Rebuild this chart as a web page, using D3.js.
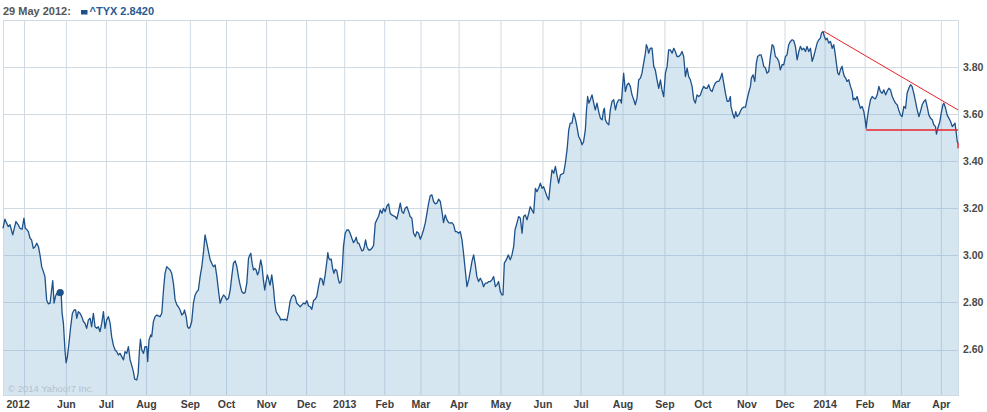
<!DOCTYPE html>
<html><head><meta charset="utf-8">
<script src="https://cdn.jsdelivr.net/npm/d3@7"></script>
<style>
body{margin:0;background:#fff;}
svg{display:block;font-family:"Liberation Sans",Arial,sans-serif;}
</style></head><body>
<svg id="c" width="987" height="412"></svg>
<script>
// x = trading session index (0 = 16 Apr 2012 ... 501 = 14 Apr 2014)
const session = [
0,1,1.9,2.8,3.7,5.1,5.9,6.8,8,8.9,
10,11,11.7,12.4,13.3,14.2,15,15.9,16.8,17.7,
18.6,19.4,20.3,21.2,22,22.9,23.8,24.7,25.5,26.1,
26.8,27.5,28.2,29,30,30.5,31,31.7,32.5,33.1,
33.8,34.6,35.5,36.4,37.3,38.1,38.7,39.5,40.4,41.3,
42.2,43,43.9,44.8,45.7,46.5,47.4,48.3,49.2,50,
50.9,51.8,52.7,53.5,54.4,55.3,56.2,57,57.9,58.8,
59.7,60.5,61.4,62.3,63.2,64,64.9,65.8,66.7,67.5,
68.4,69.1,70.2,70.9,71.6,72.1,72.8,73.7,74.5,75.4,
75.9,76.6,77.5,78,78.9,79.8,80.7,81.5,82.4,83.3,
84.2,85,85.9,86.8,87.7,88.5,89.4,90.3,91.2,92,
92.9,93.8,94.7,95.2,96.1,96.8,97.5,98.2,99,99.9,
100.8,101.7,102.5,103.4,104.3,105.2,106,106.9,107.8,108.7,
109.5,110.4,111.3,112.2,113,113.9,114.8,115.7,116.5,117.4,
118.3,119.2,120,120.9,121.8,122.7,123.5,124.4,125.3,126.2,
127,127.9,128.8,129.3,
130,130.7,131.4,132.1,132.8,133.5,134.2,135.2,135.9,136.6,
137.3,138,138.7,139.4,140.1,141,141.9,142.6,143.3,144.3,
145,145.7,146.4,147.1,148,148.9,149.8,150.6,151.5,152.4,
153.3,154.1,155,155.9,156.8,157.6,158.5,159.4,160.3,161.1,
162,162.9,163.8,164.6,165.5,166.4,167.3,168.1,169,169.9,
170.4,170.9,171.6,172.2,172.9,173.6,174.3,175.1,176,176.5,
177.4,178.1,178.6,179.5,180.4,181.3,182.1,183,183.9,184.8,
185.3,186,186.7,187.4,188.3,189.1,189.7,190.2,190.9,191.8,
192.6,193.5,194.4,195.3,196.1,197,197.9,198.8,199.6,200.5,
201.4,202.3,203.1,204,204.9,205.8,206.6,207.5,208.4,209.3,
210.1,211,211.9,212.8,213.6,214.5,215.4,216.3,217.1,218,
218.9,219.8,220.6,221.5,222.4,223.3,224.1,225,225.9,226.8,
227.6,228.5,229.4,230.3,231.1,232,232.9,233.8,234.6,235.5,
236.4,237.3,238.1,239,239.9,240.8,241.6,242.5,243.4,244.3,
245.1,246,246.9,247.8,248.6,249.5,250.4,251.3,252.1,253,
253.9,254.8,255.6,
256.5,257.4,258.3,259.1,260,260.9,261.8,262.3,263,264,
265.1,266.1,267,267.9,268.6,269.6,270.5,271.4,272.3,273.1,
274,274.9,275.8,276.6,277.5,278.4,279.3,280.1,281,281.9,
282.8,283.6,284.5,285.4,286.3,287.1,288,288.9,289.8,290.6,
291.5,292.4,293.3,294.1,295,295.9,296.8,297.6,298.5,299.4,
300.2,301.1,302,302.9,303.8,304.6,305.5,306,306.7,307.4,
308.1,309,309.9,310.7,311.6,312.5,313.4,314.3,315.1,315.5,
316,316.9,317.8,318.6,319.5,320.4,321.3,322.1,323,323.9,
324.4,324.9,325.6,326.5,327.4,328.2,329.1,330,330.9,331.7,
332.6,333.5,334.4,335.2,336.1,337,337.5,338.2,338.7,339.6,
340.5,341.4,342.2,343.1,344,344.9,345.7,346.6,347.5,348.4,
349.2,350.1,351,351.9,352.7,353.6,354.5,355.4,356.2,357.1,
358,358.9,359.7,360.6,361.5,362.4,363.2,364.1,365,365.9,
366.7,367.6,368.5,369.4,370.2,371.1,372,372.9,373.7,374.6,
375.5,376.4,377.2,378.1,379,379.9,380.7,381.6,
381.9,383,383.7,384.4,385.1,386,386.8,387.7,388.6,389.5,
390.3,391.2,392.1,392.6,393.5,394.4,395.2,395.9,397,397.7,
398.4,399.1,400,400.8,401.7,402.6,403.5,404.3,405.2,406.1,
407,407.8,408.7,409.6,410.5,411.3,412.2,413.1,414,414.8,
415.7,416.6,417.5,418.3,419.2,420.1,421,421.8,422.7,423.6,
424.5,425.3,426.2,427.1,428,428.8,429.4,430.2,430.9,431.6,
432.3,433.2,434.1,435,435.8,436.4,437.2,437.9,438.6,439.3,
440.2,440.7,441.4,442.1,442.8,443.7,444.6,445.5,446,446.7,
447.2,448.1,449,449.8,450.7,451.6,452.3,452.8,453.3,454.2,
455.1,456,456.8,457.7,458.6,459.5,460.3,461.2,462.1,463,
463.8,464.7,465.6,466.5,467.3,468.2,469.1,469.9,470.8,471.7,
472.6,473.5,474.3,475.2,476.1,476.9,477.8,478.7,479.6,480.5,
481.3,482.2,483.1,484,484.8,485.7,486.6,487.5,488.3,489.2,
489.7,490.4,491.5,492.2,493.1,493.6,494.5,495.3,496.2,497.1,
498,498.8,499.4,499.9,500.6,501
];
const tyx = [
3.115,3.154,3.137,3.122,3.130,3.087,3.115,3.144,3.130,3.115,
3.111,3.158,3.115,3.111,3.101,3.073,3.066,3.030,3.037,3.052,
3.037,3.002,2.952,2.931,2.910,2.811,2.794,2.797,2.853,2.893,
2.797,2.825,2.839,2.832,2.842,2.839,2.754,2.712,2.598,2.544,
2.570,2.627,2.697,2.754,2.768,2.768,2.733,2.761,2.754,2.740,
2.719,2.712,2.690,2.726,2.733,2.697,2.754,2.697,2.690,2.697,
2.676,2.712,2.761,2.690,2.726,2.740,2.712,2.655,2.619,2.598,
2.591,2.577,2.584,2.570,2.556,2.591,2.584,2.612,2.556,2.534,
2.506,2.474,2.471,2.499,2.598,2.644,2.598,2.584,2.612,2.612,
2.549,2.641,2.662,2.655,2.719,2.740,2.747,2.743,2.740,2.754,
2.853,2.924,2.952,2.945,2.938,2.924,2.882,2.811,2.790,2.782,
2.768,2.747,2.754,2.768,2.740,2.697,2.690,2.697,2.719,2.797,
2.832,2.846,2.853,2.910,2.952,3.016,3.087,3.052,3.016,2.981,
2.967,2.952,2.959,2.910,2.853,2.797,2.818,2.832,2.825,2.811,
2.818,2.853,2.910,2.967,2.977,2.952,2.910,2.874,2.846,2.839,
2.842,2.882,2.988,2.998,
3.009,2.967,2.938,2.945,2.938,2.917,2.931,2.981,2.952,2.896,
2.853,2.889,2.917,2.896,2.874,2.917,2.860,2.797,2.761,2.747,
2.740,2.726,2.729,2.726,2.729,2.723,2.761,2.804,2.825,2.832,
2.825,2.797,2.790,2.782,2.790,2.797,2.794,2.808,2.785,2.782,
2.771,2.808,2.814,2.825,2.867,2.903,2.899,2.874,2.917,2.974,
3.012,2.988,2.981,2.984,2.945,2.924,2.941,2.935,2.896,2.882,
2.889,2.959,3.037,3.094,3.108,3.108,3.094,3.073,3.054,3.066,
3.077,3.052,3.052,3.037,3.019,3.023,3.044,3.066,3.037,3.023,
3.023,3.030,3.042,3.137,3.151,3.165,3.193,3.179,3.200,3.186,
3.210,3.219,3.179,3.172,3.168,3.165,3.154,3.186,3.222,3.186,
3.179,3.200,3.207,3.186,3.165,3.158,3.094,3.080,3.101,3.094,
3.069,3.087,3.108,3.137,3.179,3.222,3.253,3.257,3.229,3.219,
3.222,3.239,3.229,3.186,3.139,3.172,3.151,3.139,3.137,3.139,
3.130,3.101,3.101,3.094,3.101,3.066,3.009,2.938,2.867,2.896,
2.931,2.974,3.002,2.959,2.910,2.889,2.903,2.889,2.867,2.882,
2.882,2.889,2.889,
2.896,2.910,2.867,2.875,2.889,2.846,2.832,2.832,2.967,2.981,
3.002,2.981,3.002,3.037,3.108,3.137,3.165,3.158,3.094,3.165,
3.172,3.151,3.179,3.207,3.193,3.179,3.285,3.271,3.285,3.307,
3.285,3.292,3.271,3.250,3.236,3.300,3.363,3.349,3.378,3.342,
3.307,3.342,3.346,3.349,3.392,3.448,3.533,3.562,3.562,3.604,
3.583,3.547,3.505,3.491,3.470,3.484,3.533,3.604,3.675,3.647,
3.661,3.682,3.647,3.618,3.647,3.611,3.583,3.576,3.618,3.625,
3.576,3.562,3.555,3.618,3.654,3.661,3.618,3.647,3.661,3.661,
3.647,3.703,3.774,3.696,3.725,3.732,3.718,3.682,3.661,3.640,
3.668,3.746,3.753,3.774,3.817,3.859,3.895,3.880,3.859,3.880,
3.880,3.803,3.788,3.746,3.710,3.746,3.703,3.675,3.774,3.803,
3.873,3.873,3.859,3.880,3.866,3.845,3.845,3.852,3.866,3.845,
3.760,3.796,3.760,3.746,3.718,3.661,3.647,3.682,3.675,3.682,
3.703,3.718,3.710,3.710,3.725,3.703,3.696,3.718,3.732,3.739,
3.739,3.753,3.774,3.732,3.689,3.654,3.654,3.675,
3.633,3.597,3.583,3.611,3.590,3.597,3.611,3.625,3.630,3.630,
3.661,3.692,3.718,3.753,3.767,3.739,3.817,3.845,3.852,3.852,
3.831,3.803,3.796,3.774,3.781,3.845,3.895,3.888,3.845,3.838,
3.824,3.788,3.810,3.810,3.845,3.852,3.895,3.909,3.916,3.913,
3.888,3.831,3.866,3.888,3.873,3.880,3.866,3.888,3.866,3.880,
3.824,3.845,3.873,3.902,3.916,3.923,3.944,3.951,3.930,3.916,
3.923,3.902,3.909,3.880,3.895,3.866,3.817,3.774,3.767,3.788,
3.803,3.781,3.760,3.753,3.739,3.746,3.718,3.696,3.661,3.668,
3.661,3.675,3.647,3.625,3.633,3.611,3.576,3.540,3.576,3.625,
3.661,3.675,3.668,3.665,3.682,3.718,3.696,3.689,3.703,3.682,
3.696,3.710,3.703,3.675,3.661,3.647,3.640,3.618,3.597,3.590,
3.633,3.625,3.689,3.710,3.725,3.718,3.689,3.654,3.618,3.590,
3.611,3.640,3.654,3.661,3.633,3.597,3.583,3.576,3.555,3.547,
3.515,3.540,3.569,3.604,3.640,3.647,3.625,3.597,3.583,3.569,
3.547,3.555,3.562,3.533,3.484,3.477
];
const monthTickSessions = [11,33,54,75,98,117,138,159,179,200,219,239,261,283,303,325,347,367,390,410,431,452,471,492];
const monthTickLabels = ["2012","Jun","Jul","Aug","Sep","Oct","Nov","Dec","2013","Feb","Mar","Apr","May","Jun","Jul","Aug","Sep","Oct","Nov","Dec","2014","Feb","Mar","Apr"];
const yTickValues = [2.6,2.8,3.0,3.2,3.4,3.6,3.8];
const yGridValues = [2.6,2.8,3.0,3.2,3.4,3.6,3.8,4.0];
const hoverSession = 30, hoverValue = 2.842, hoverDate = "29 May 2012:", symbolName = "^TYX";
const trendFrom = [[430.6,3.952],[452.8,3.533],[501,3.477]];
const trendTo   = [[501,3.618],[501,3.533],[501,3.455]];

const svg = d3.select("#c");
const x = d3.scaleLinear().domain([0,501]).range([3,958]);
const y = d3.scaleLinear().domain([2.407,4.0]).range([395,20]);
const gridColor = "#d0dae3", lineColor = "#1d5189";

const n = Math.min(session.length, tyx.length);
const pts = d3.range(n).map(i => [session[i], tyx[i]]);

// gridlines
const g = svg.append("g");
g.selectAll(".vg").data(monthTickSessions).join("line")
  .attr("x1", d=>x(d)+0.5).attr("x2", d=>x(d)+0.5).attr("y1", y(4.0)).attr("y2", y(2.407))
  .attr("stroke", gridColor).attr("stroke-width",1);
g.selectAll(".hg").data(yGridValues).join("line")
  .attr("x1", x(0)).attr("x2", x(501)).attr("y1", d=>Math.round(y(d))+0.5).attr("y2", d=>Math.round(y(d))+0.5)
  .attr("stroke", gridColor).attr("stroke-width",1);

// area
const area = d3.area().x(d=>x(d[0])).y0(y(2.407)).y1(d=>y(d[1]));
svg.append("path").datum(pts).attr("d", area).attr("fill","rgb(112,168,206)").attr("fill-opacity",0.29);

// border
svg.append("rect").attr("x", x(0)+0.5).attr("y", y(4.0)+0.5)
  .attr("width", x(501)-x(0)).attr("height", y(2.407)-y(4.0))
  .attr("fill","none").attr("stroke", gridColor);

// line
const line = d3.line().x(d=>x(d[0])).y(d=>y(d[1]));
svg.append("path").datum(pts).attr("d", line).attr("fill","none")
  .attr("stroke", lineColor).attr("stroke-width",1.3).attr("stroke-linejoin","round");

// trend annotations
svg.selectAll(".tr").data(d3.range(trendFrom.length)).join("line")
  .attr("x1", i=>x(trendFrom[i][0])).attr("y1", i=>y(trendFrom[i][1]))
  .attr("x2", i=>x(trendTo[i][0])).attr("y2", i=>y(trendTo[i][1]))
  .attr("stroke","#e8232a").attr("stroke-width", i=> i===0 ? 1 : 1.4);

// hover dot
svg.append("circle").attr("cx", x(hoverSession)).attr("cy", y(hoverValue)).attr("r",3.6).attr("fill", lineColor);

// x axis
const xa = svg.append("g").attr("transform", `translate(0,${y(2.407)})`)
  .call(d3.axisBottom(x).tickValues(monthTickSessions).tickFormat((d,i)=>monthTickLabels[i]).tickSize(0).tickPadding(6));
xa.select(".domain").remove();
xa.selectAll("text").attr("font-family","Liberation Sans, Arial, sans-serif").attr("font-size",10.5)
  .attr("font-weight","bold").attr("fill","#3d3d3d");
xa.select(".tick text").attr("text-anchor","start").attr("x", x(0)+3 - x(monthTickSessions[0]));

// y axis (right)
const ya = svg.append("g").attr("transform", `translate(${x(501)},0)`)
  .call(d3.axisRight(y).tickValues(yTickValues).tickFormat(d3.format(".2f")).tickSize(0).tickPadding(5));
ya.select(".domain").remove();
ya.selectAll("text").attr("font-family","Liberation Sans, Arial, sans-serif").attr("font-size",10.5)
  .attr("font-weight","bold").attr("fill","#4a4a4a");

// legend
svg.append("text").attr("x",3).attr("y",15).attr("font-size",11).attr("font-weight","bold")
  .attr("fill","#555").text(hoverDate);
svg.append("rect").attr("x",81).attr("y",10).attr("width",6.5).attr("height",4.5).attr("fill",lineColor);
svg.append("text").attr("x",89.5).attr("y",15).attr("font-size",11).attr("font-weight","bold")
  .attr("fill","#2a5a93").text(symbolName + " " + d3.format(".4f")(hoverValue));

// copyright
svg.append("text").attr("x",8).attr("y",391.5).attr("font-size",9.5).attr("fill","#b4c1cd")
  .text("\u00a9 2014 Yahoo!7 Inc.");
</script>
</body></html>
